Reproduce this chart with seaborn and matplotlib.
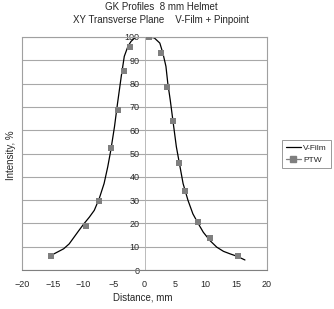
import numpy as np
import pandas as pd
import matplotlib
matplotlib.use("Agg")
import matplotlib.pyplot as plt
from matplotlib.lines import Line2D
from matplotlib.ticker import MultipleLocator
import seaborn as sns

sns.set_style("white")
plt.rcParams['font.family'] = ['Liberation Sans', 'DejaVu Sans']

# V-Film profile
film_x = [-14.8, -14.0, -13.2, -12.3, -11.5, -10.7, -9.9, -9.0, -8.2, -7.4, -6.6, -6.0,
          -5.5, -4.9, -4.4, -3.8, -3.3, -2.7, -2.2, -1.6, -0.8, 0.0, 0.8, 1.6, 2.5, 3.0,
          3.5, 3.8, 4.2, 4.7, 5.2, 5.8, 6.3, 7.1, 7.9, 8.8, 9.6, 10.7, 11.8, 12.9, 14.0,
          15.1, 16.4]
film_y = [6.9, 8.0, 9.1, 11.2, 14.1, 17.0, 19.8, 22.7, 25.6, 30.6, 37.1, 44.3,
          51.4, 61.5, 71.6, 83.0, 91.7, 96.0, 98.1, 99.6, 100.3, 100.3, 100.0, 99.6, 97.4, 93.1,
          87.4, 80.2, 73.0, 62.9, 52.9, 44.3, 37.1, 29.9, 24.1, 19.8, 16.2, 12.6, 9.8, 8.0, 6.9,
          5.9, 4.3]

# PTW pinpoint chamber points
ptw_x = [-15.2, -9.5, -7.4, -5.4, -4.3, -3.3, -2.4, 0.7, 2.7, 3.6, 4.7, 5.6, 6.6, 8.7, 10.7, 15.3]
ptw_y = [6.2, 18.8, 29.5, 52.2, 68.7, 85.3, 95.5, 100.0, 93.1, 78.6, 63.9, 46.0, 33.9, 20.5, 13.6, 6.2]

film = pd.DataFrame({"x": film_x, "y": film_y})
ptw = pd.DataFrame({"x": ptw_x, "y": ptw_y})

fig = plt.figure(figsize=(3.34, 3.09), dpi=100)
ax = fig.add_axes([22 / 334, 1 - 270 / 309, 245 / 334, 233 / 309])

sns.lineplot(data=film, x="x", y="y", ax=ax, color="black", linewidth=0.9, sort=False)
sns.scatterplot(data=ptw, x="x", y="y", ax=ax, color="#7f7f7f", marker="s", s=22,
                edgecolor="#7f7f7f", linewidth=0, zorder=3)

ax.set_xlim(-20, 20)
ax.set_ylim(0, 100)
ax.xaxis.set_major_locator(MultipleLocator(5))
ax.xaxis.set_minor_locator(MultipleLocator(1))
ax.yaxis.set_major_locator(MultipleLocator(10))
ax.yaxis.set_minor_locator(MultipleLocator(2))

# horizontal grid
ax.yaxis.grid(True, color="#a8a8a8", linewidth=0.8)
ax.xaxis.grid(False)
ax.set_axisbelow(True)

# y axis crosses at x=0
ax.spines["left"].set_position(("data", 0))
ax.spines["left"].set_color("#b0b0b0")
ax.spines["left"].set_linewidth(0.6)
for s in ["top", "right"]:
    ax.spines[s].set_color("#a0a0a0")
    ax.spines[s].set_linewidth(0.8)
ax.spines["bottom"].set_color("#808080")
ax.spines["bottom"].set_linewidth(0.8)

# left frame of the plot area
ax.plot([-20, -20], [0, 100], color="#a0a0a0", linewidth=0.8, clip_on=False)

ax.tick_params(axis="both", which="major", labelsize=6.5, length=3, width=0.6,
               color="#909090", direction="inout", pad=2)
ax.tick_params(axis="both", which="minor", length=2, width=0.5, color="#909090",
               direction="inout")
ax.tick_params(axis="x", pad=6)
ax.set_xlabel("")
ax.set_ylabel("")

fig.text(161 / 334, 1 - 7 / 309, "GK Profiles  8 mm Helmet", ha="center", va="center", fontsize=7)
fig.text(161 / 334, 1 - 20 / 309, "XY Transverse Plane    V-Film + Pinpoint", ha="center",
         va="center", fontsize=7)
fig.text(143 / 334, 1 - 297 / 309, "Distance, mm", ha="center", va="center", fontsize=7)
fig.text(11 / 334, 1 - 155 / 309, "Intensity, %", ha="center", va="center", fontsize=7,
         rotation=90)

handles = [
    Line2D([], [], color="black", linewidth=0.9),
    Line2D([], [], color="#7f7f7f", linewidth=0.9, marker="s", markersize=4),
]
leg = fig.legend(handles, ["V-Film", "PTW"], loc="upper left",
                 bbox_to_anchor=(282 / 334, 1 - 140 / 309), fontsize=6,
                 frameon=True, fancybox=False, handlelength=1.8, handletextpad=0.3,
                 borderpad=0.45, labelspacing=0.6, borderaxespad=0)
leg.get_frame().set_edgecolor("#808080")
leg.get_frame().set_linewidth(0.7)

fig.savefig("out.png", dpi=100)
